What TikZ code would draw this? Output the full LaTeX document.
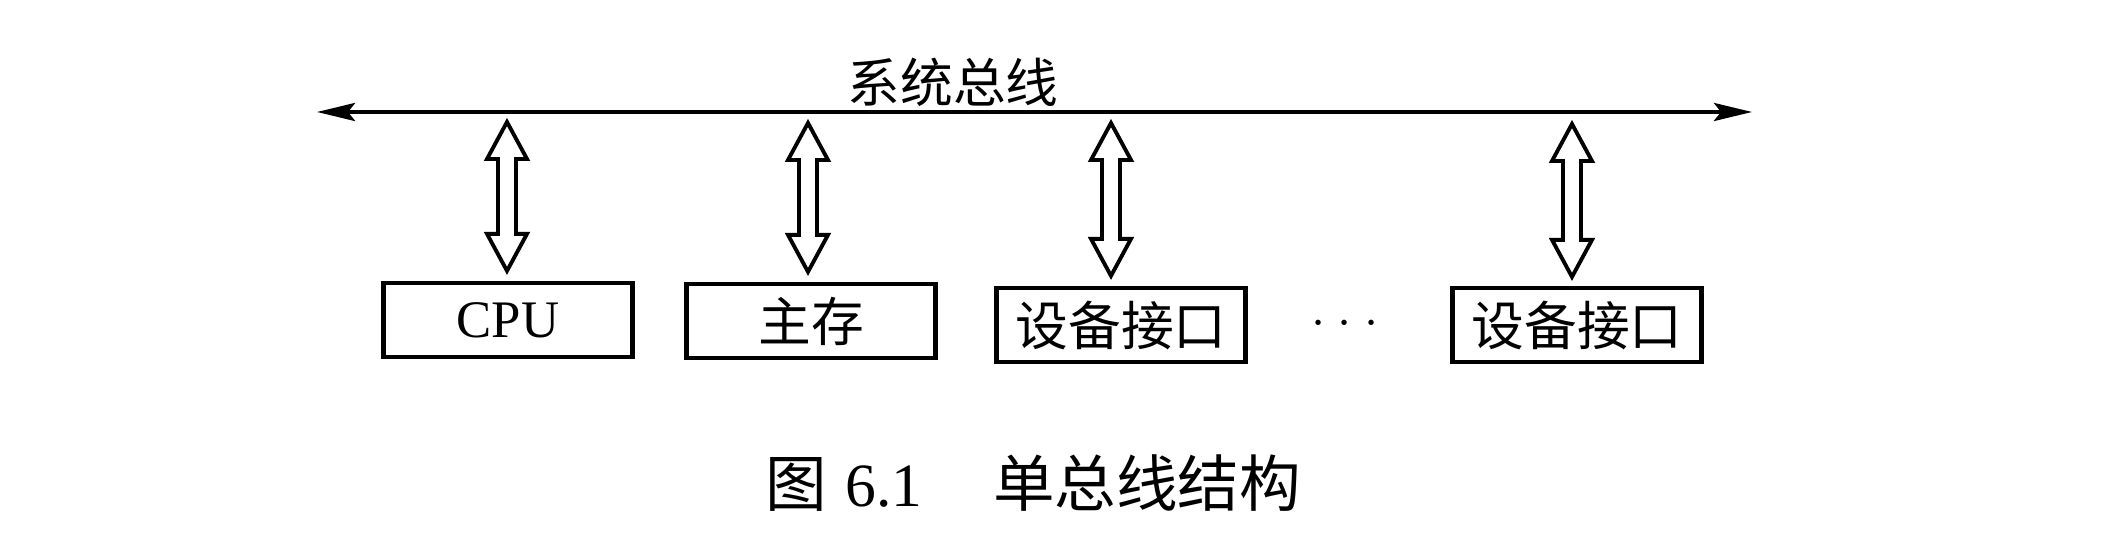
\documentclass[tikz,border=0pt]{standalone}
\usepackage{fontspec}
\setmainfont{Liberation Serif}
\newfontfamily\cjk{Noto Sans CJK SC}
\usetikzlibrary{arrows.meta,calc}
\begin{document}
\begin{tikzpicture}[x=0.01cm,y=-0.01cm,
  unitbox/.style={draw,line width=1.2pt,minimum width=2.49cm,minimum height=0.74cm,inner sep=0pt,
    font=\fontsize{15}{18}\selectfont},
  bus/.style={line width=1.15pt,{Stealth[length=0.38cm,width=0.18cm,inset=0.07cm]}-{Stealth[length=0.38cm,width=0.18cm,inset=0.07cm]}},
  dblarrow/.style={line width=1.1pt,fill=white,line join=miter,
    to path={let \p1=(\tikztostart), \p2=(\tikztotarget) in
      (\x1,\y1) -- (\x1+0.2cm,\y1-0.37cm) -- (\x1+0.09cm,\y1-0.37cm) -- (\x1+0.09cm,\y2+0.37cm)
      -- (\x1+0.2cm,\y2+0.37cm) -- (\x1,\y2) -- (\x1-0.2cm,\y2+0.37cm) -- (\x1-0.09cm,\y2+0.37cm)
      -- (\x1-0.09cm,\y1-0.37cm) -- (\x1-0.2cm,\y1-0.37cm) -- cycle}},
  lbl/.style={font=\fontsize{15}{18}\selectfont\cjk,inner sep=0pt}
]
\useasboundingbox (0,0) rectangle (2120,540);

% bus
\coordinate (busL) at (317,112);
\coordinate (busR) at (1752,112);
\draw[bus] (busL) -- (busR);
\node[lbl] (buslabel) at (953,82) {系统总线};

% units
\node[unitbox] (cpu) at (508,320) {CPU};
\node[unitbox,font=\fontsize{15}{18}\selectfont\cjk] (mem) at (811,321) {主存};
\node[unitbox,font=\fontsize{15}{18}\selectfont\cjk] (dev1) at (1121,325) {设备接口};
\node[unitbox,font=\fontsize{15}{18}\selectfont\cjk] (dev2) at (1577,325) {设备接口};
\node[inner sep=0pt,font=\fontsize{15}{18}\selectfont] (dots) at (1345,324) {$\cdot$\hspace{3.6pt}$\cdot$\hspace{3.6pt}$\cdot$};

% double arrows
\coordinate (t1) at (507,122);
\coordinate (t2) at (808,123);
\coordinate (t3) at (1111,123);
\coordinate (t4) at (1572,124);
\draw[dblarrow] (t1) to ($(cpu.north)+(-1,-10)$);
\draw[dblarrow] (t2) to ($(mem.north)+(-3,-10)$);
\draw[dblarrow] (t3) to ($(dev1.north)+(-10,-10)$);
\draw[dblarrow] (t4) to ($(dev2.north)+(-5,-9)$);

% caption
\node[inner sep=0pt,font=\fontsize{17.5}{20}\selectfont] (caption) at (1033,483)
  {{\cjk 图}\hspace{0.3em}6.1\hspace{1.15em}{\cjk 单总线结构}};
\end{tikzpicture}
\end{document}
